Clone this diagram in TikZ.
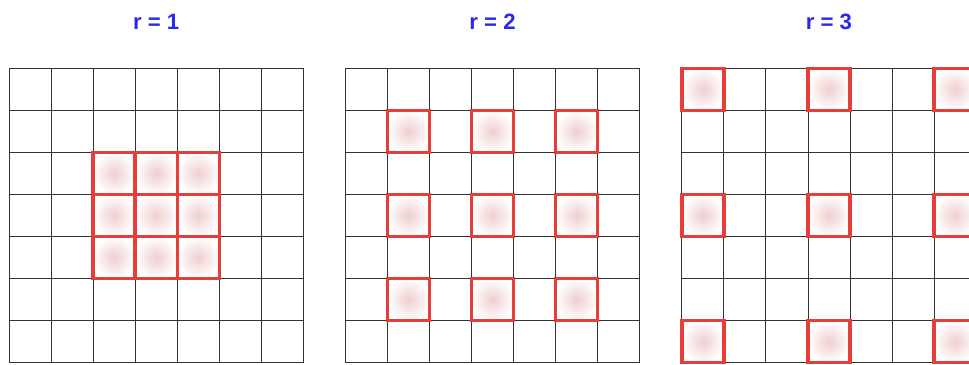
\documentclass[tikz,border=0pt]{standalone}
\usepackage{fontspec}
\setsansfont{Liberation Sans}
\usepackage{xcolor}
\usepackage{tikz}
\definecolor{bleutitre}{RGB}{40,40,238}
\definecolor{rouge}{RGB}{232,62,58}
\definecolor{rose}{RGB}{240,206,206}

\begin{document}
\begin{tikzpicture}[x=1cm, y=1cm, font=\sffamily\bfseries,
  cell/.style={draw=black!80, line width=0.6pt},
  pickfill/.style={inner color=rose, outer color=white},
  pickframe/.style={draw=rouge, line width=2.3pt},
  titre/.style={text=bleutitre, font=\sffamily\bfseries\fontsize{15}{18}\selectfont}]
\clip (0,0) rectangle (23.044,8.680);
\foreach \r/\x in {1/0.214, 2/8.214, 3/16.214} {
  \begin{scope}[shift={(\x,0.056)}]
    \draw[cell] (0,0) grid (7,7);
    \node[titre] (titre\r) at (3.5,8.1) {r = \r};
    % shading first, frames after
    \foreach \i in {-1,0,1} {
      \foreach \j in {-1,0,1} {
        \pgfmathtruncatemacro\cx{3+\r*\i}
        \pgfmathtruncatemacro\cy{3+\r*\j}
        \shade[pickfill] (\cx,\cy) rectangle +(1,1);
      }
    }
    \foreach \i in {-1,0,1} {
      \foreach \j in {-1,0,1} {
        \pgfmathtruncatemacro\cx{3+\r*\i}
        \pgfmathtruncatemacro\cy{3+\r*\j}
        \draw[pickframe] (\cx,\cy) rectangle +(1,1);
      }
    }
  \end{scope}
}
\end{tikzpicture}
\end{document}
